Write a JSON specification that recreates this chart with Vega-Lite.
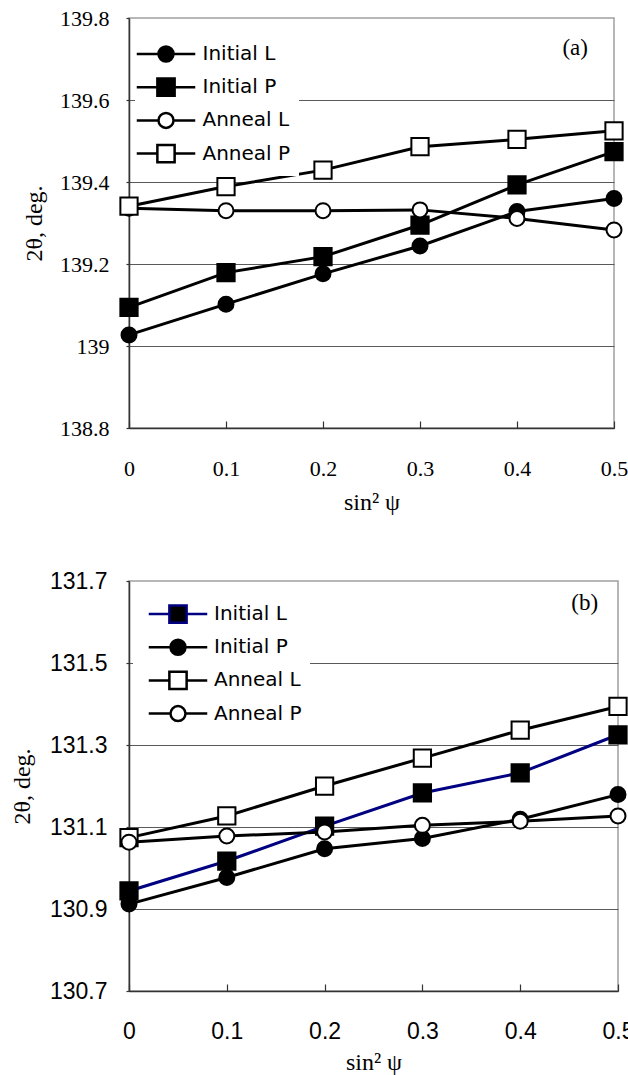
{
  "$schema": "https://vega.github.io/schema/vega-lite/v6.json",
  "background": "white",
  "padding": {"left": 9, "top": 6, "right": 0, "bottom": 0},
  "bounds": "full",
  "spacing": 54,
  "datasets": {
    "a": [
      {"s": "Initial L", "x": 0, "y": 139.027}, {"s": "Initial L", "x": 0.1, "y": 139.102}, {"s": "Initial L", "x": 0.2, "y": 139.176}, {"s": "Initial L", "x": 0.3, "y": 139.244}, {"s": "Initial L", "x": 0.4, "y": 139.328}, {"s": "Initial L", "x": 0.5, "y": 139.36},
      {"s": "Initial P", "x": 0, "y": 139.094}, {"s": "Initial P", "x": 0.1, "y": 139.179}, {"s": "Initial P", "x": 0.2, "y": 139.218}, {"s": "Initial P", "x": 0.3, "y": 139.295}, {"s": "Initial P", "x": 0.4, "y": 139.393}, {"s": "Initial P", "x": 0.5, "y": 139.474},
      {"s": "Anneal L", "x": 0, "y": 139.336}, {"s": "Anneal L", "x": 0.1, "y": 139.33}, {"s": "Anneal L", "x": 0.2, "y": 139.33}, {"s": "Anneal L", "x": 0.3, "y": 139.332}, {"s": "Anneal L", "x": 0.4, "y": 139.311}, {"s": "Anneal L", "x": 0.5, "y": 139.283},
      {"s": "Anneal P", "x": 0, "y": 139.341}, {"s": "Anneal P", "x": 0.1, "y": 139.389}, {"s": "Anneal P", "x": 0.2, "y": 139.429}, {"s": "Anneal P", "x": 0.3, "y": 139.486}, {"s": "Anneal P", "x": 0.4, "y": 139.504}, {"s": "Anneal P", "x": 0.5, "y": 139.525}
    ],
    "b": [
      {"s": "Initial L", "x": 0, "y": 130.944}, {"s": "Initial L", "x": 0.1, "y": 131.017}, {"s": "Initial L", "x": 0.2, "y": 131.102}, {"s": "Initial L", "x": 0.3, "y": 131.183}, {"s": "Initial L", "x": 0.4, "y": 131.232}, {"s": "Initial L", "x": 0.5, "y": 131.325},
      {"s": "Initial P", "x": 0, "y": 130.912}, {"s": "Initial P", "x": 0.1, "y": 130.977}, {"s": "Initial P", "x": 0.2, "y": 131.047}, {"s": "Initial P", "x": 0.3, "y": 131.072}, {"s": "Initial P", "x": 0.4, "y": 131.119}, {"s": "Initial P", "x": 0.5, "y": 131.179},
      {"s": "Anneal L", "x": 0, "y": 131.074}, {"s": "Anneal L", "x": 0.1, "y": 131.127}, {"s": "Anneal L", "x": 0.2, "y": 131.2}, {"s": "Anneal L", "x": 0.3, "y": 131.268}, {"s": "Anneal L", "x": 0.4, "y": 131.336}, {"s": "Anneal L", "x": 0.5, "y": 131.394},
      {"s": "Anneal P", "x": 0, "y": 131.063}, {"s": "Anneal P", "x": 0.1, "y": 131.078}, {"s": "Anneal P", "x": 0.2, "y": 131.088}, {"s": "Anneal P", "x": 0.3, "y": 131.104}, {"s": "Anneal P", "x": 0.4, "y": 131.114}, {"s": "Anneal P", "x": 0.5, "y": 131.127}
    ],
    "la": [{"x": 0.46, "y": 139.727, "t": "(a)"}],
    "lb": [{"x": 0.466, "y": 131.646, "t": "(b)"}]
  },
  "vconcat": [
    {
      "width": 485,
      "height": 410,
      "resolve": {
        "scale": {"shape": "independent", "fill": "independent", "stroke": "independent"},
        "legend": {"shape": "independent", "fill": "independent", "stroke": "independent"}
      },
      "layer": [
        {
          "data": {"name": "a"},
          "mark": {"type": "line", "strokeWidth": 3, "color": "black"},
          "encoding": {
            "x": {"field": "x", "type": "quantitative", "scale": {"domain": [0, 0.5], "nice": false},
              "axis": {"values": [0, 0.1, 0.2, 0.3, 0.4, 0.5], "format": ".1~f", "grid": false, "tickSize": -7, "labelPadding": 37, "labelFlush": false, "labelOverlap": false,
                "labelFont": "Liberation Serif", "labelFontSize": 22, "title": "sin² ψ", "titleFont": "Liberation Serif", "titleFontSize": 24, "titlePadding": 11}},
            "y": {"field": "y", "type": "quantitative", "scale": {"domain": [138.8, 139.8], "nice": false, "zero": false},
              "axis": {"values": [138.8, 139, 139.2, 139.4, 139.6, 139.8], "format": ".1~f", "grid": true, "tickSize": 3, "labelPadding": 17, "labelFlush": false, "labelOverlap": false,
                "gridOpacity": {"condition": {"test": "datum.value > 139.75", "value": 0}, "value": 1},
                "labelFont": "Liberation Serif", "labelFontSize": 22, "title": "2θ, deg.", "titleFont": "Liberation Serif", "titleFontSize": 24, "titlePadding": 13}},
            "detail": {"field": "s", "type": "nominal"}
          }
        },
        {
          "data": {"name": "a"},
          "mark": {"type": "point", "filled": true, "size": 225, "stroke": "black", "strokeWidth": 2, "opacity": 1},
          "encoding": {
            "x": {"field": "x", "type": "quantitative"},
            "y": {"field": "y", "type": "quantitative"},
            "shape": {"field": "s", "type": "nominal",
              "scale": {"domain": ["Initial L", "Initial P", "Anneal L", "Anneal P"], "range": ["circle", "M-1.15,-1.15H1.15V1.15H-1.15Z", "circle", "M-1.15,-1.15H1.15V1.15H-1.15Z"]},
              "legend": null},
            "fill": {"condition": {"test": "datum.s === 'Anneal L' || datum.s === 'Anneal P'", "value": "white"}, "value": "black"}
          }
        },
        {
          "data": {"name": "a"},
          "mark": {"type": "point", "filled": true, "size": 0, "stroke": "black", "strokeWidth": 2.5, "opacity": 1},
          "encoding": {
            "x": {"field": "x", "type": "quantitative"},
            "y": {"field": "y", "type": "quantitative"},
            "shape": {"field": "s", "type": "nominal",
              "scale": {"domain": ["Initial L", "Initial P", "Anneal L", "Anneal P"], "range": ["M-3.9,0H-1M1,0H3.9M1,0A1,1,0,1,1,-1,0A1,1,0,1,1,1,0Z", "M-3.9,0H-1.15M1.15,0H3.9M-1.15,-1.15H1.15V1.15H-1.15Z", "M-3.9,0H-1M1,0H3.9M1,0A1,1,0,1,1,-1,0A1,1,0,1,1,1,0Z", "M-3.9,0H-1.15M1.15,0H3.9M-1.15,-1.15H1.15V1.15H-1.15Z"]},
              "legend": {"title": null, "orient": "none", "legendX": 6, "legendY": 18, "padding": 8, "fillColor": "white",
                "symbolSize": 225, "symbolStrokeWidth": 2.5, "symbolOpacity": 1, "symbolOffset": 13, "labelOffset": 26.5,
                "labelFont": "DejaVu Sans", "labelFontSize": 20, "labelColor": "black", "rowPadding": 6.2}},
            "fill": {"field": "s", "type": "nominal",
              "scale": {"domain": ["Initial L", "Initial P", "Anneal L", "Anneal P"], "range": ["black", "black", "white", "white"]}}
          }
        },
        {
          "data": {"name": "la"},
          "mark": {"type": "text", "font": "Liberation Serif", "fontSize": 23, "color": "black"},
          "encoding": {
            "x": {"field": "x", "type": "quantitative"},
            "y": {"field": "y", "type": "quantitative"},
            "text": {"field": "t"}
          }
        }
      ]
    },
    {
      "width": 489,
      "height": 410,
      "resolve": {
        "scale": {"shape": "independent", "fill": "independent", "stroke": "independent"},
        "legend": {"shape": "independent", "fill": "independent", "stroke": "independent"}
      },
      "layer": [
        {
          "data": {"name": "b"},
          "mark": {"type": "line", "strokeWidth": 3},
          "encoding": {
            "x": {"field": "x", "type": "quantitative", "scale": {"domain": [0, 0.5], "nice": false},
              "axis": {"values": [0, 0.1, 0.2, 0.3, 0.4, 0.5], "format": ".1~f", "grid": false, "tickSize": -7, "labelPadding": 36, "labelFlush": false, "labelOverlap": false,
                "labelFont": "Liberation Sans", "labelFontSize": 23, "title": "sin² ψ", "titleFont": "Liberation Serif", "titleFontSize": 24, "titlePadding": 7}},
            "y": {"field": "y", "type": "quantitative", "scale": {"domain": [130.7, 131.7], "nice": false, "zero": false},
              "axis": {"values": [130.7, 130.9, 131.1, 131.3, 131.5, 131.7], "format": ".1f", "grid": true, "tickSize": 3, "labelPadding": 19, "labelFlush": false, "labelOverlap": false,
                "gridOpacity": {"condition": {"test": "datum.value > 131.65", "value": 0}, "value": 1},
                "labelFont": "Liberation Sans", "labelFontSize": 23, "title": "2θ, deg.", "titleFont": "Liberation Serif", "titleFontSize": 24, "titlePadding": 15}},
            "detail": {"field": "s", "type": "nominal"},
            "color": {"condition": {"test": "datum.s === 'Initial L'", "value": "#000080"}, "value": "black"}
          }
        },
        {
          "data": {"name": "b"},
          "mark": {"type": "point", "filled": true, "size": 225, "stroke": "black", "strokeWidth": 2, "opacity": 1},
          "encoding": {
            "x": {"field": "x", "type": "quantitative"},
            "y": {"field": "y", "type": "quantitative"},
            "shape": {"field": "s", "type": "nominal",
              "scale": {"domain": ["Initial L", "Initial P", "Anneal L", "Anneal P"], "range": ["M-1.15,-1.15H1.15V1.15H-1.15Z", "circle", "M-1.15,-1.15H1.15V1.15H-1.15Z", "circle"]},
              "legend": null},
            "fill": {"condition": {"test": "datum.s === 'Anneal L' || datum.s === 'Anneal P'", "value": "white"}, "value": "black"}
          }
        },
        {
          "data": {"name": "b"},
          "mark": {"type": "point", "filled": true, "size": 0, "strokeWidth": 2.5, "opacity": 1},
          "encoding": {
            "x": {"field": "x", "type": "quantitative"},
            "y": {"field": "y", "type": "quantitative"},
            "shape": {"field": "s", "type": "nominal",
              "scale": {"domain": ["Initial L", "Initial P", "Anneal L", "Anneal P"], "range": ["M-3.9,0H-1.15M1.15,0H3.9M-1.15,-1.15H1.15V1.15H-1.15Z", "M-3.9,0H-1M1,0H3.9M1,0A1,1,0,1,1,-1,0A1,1,0,1,1,1,0Z", "M-3.9,0H-1.15M1.15,0H3.9M-1.15,-1.15H1.15V1.15H-1.15Z", "M-3.9,0H-1M1,0H3.9M1,0A1,1,0,1,1,-1,0A1,1,0,1,1,1,0Z"]},
              "legend": {"title": null, "orient": "none", "legendX": 4, "legendY": 15, "padding": 8, "fillColor": "white",
                "symbolSize": 225, "symbolStrokeWidth": 2.5, "symbolOpacity": 1, "symbolOffset": 27, "labelOffset": 26,
                "labelFont": "DejaVu Sans", "labelFontSize": 20, "labelColor": "black", "rowPadding": 6.2}},
            "fill": {"field": "s", "type": "nominal",
              "scale": {"domain": ["Initial L", "Initial P", "Anneal L", "Anneal P"], "range": ["black", "black", "white", "white"]}},
            "stroke": {"field": "s", "type": "nominal",
              "scale": {"domain": ["Initial L", "Initial P", "Anneal L", "Anneal P"], "range": ["#000080", "black", "black", "black"]}}
          }
        },
        {
          "data": {"name": "lb"},
          "mark": {"type": "text", "font": "Liberation Serif", "fontSize": 23, "color": "black"},
          "encoding": {
            "x": {"field": "x", "type": "quantitative"},
            "y": {"field": "y", "type": "quantitative"},
            "text": {"field": "t"}
          }
        }
      ]
    }
  ],
  "resolve": {
    "scale": {"x": "independent", "y": "independent", "shape": "independent", "fill": "independent", "stroke": "independent"},
    "legend": {"shape": "independent", "fill": "independent", "stroke": "independent"},
    "axis": {"x": "independent", "y": "independent"}
  },
  "config": {
    "view": {"stroke": "#a0a0a0", "strokeWidth": 1.5},
    "axis": {"labelFont": "Liberation Serif", "domainColor": "#333333", "domainWidth": 1.5, "tickColor": "#333333", "tickWidth": 1.2, "gridColor": "#5a5a5a", "gridWidth": 1.2, "labelColor": "black", "titleColor": "black", "titleFontWeight": "normal"}
  }
}
